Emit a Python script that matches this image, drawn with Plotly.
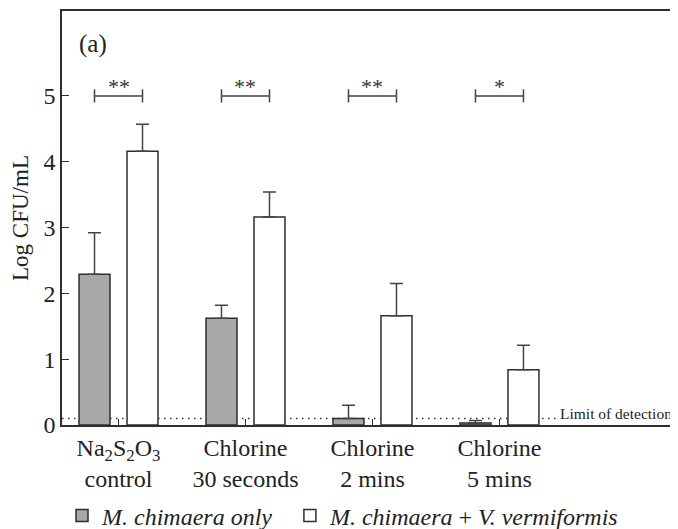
import plotly.graph_objects as go

categories = ["Na<sub>2</sub>S<sub>2</sub>O<sub>3</sub><br>control", "Chlorine<br>30 seconds",
              "Chlorine<br>2 mins", "Chlorine<br>5 mins"]
only_vals = [2.29, 1.62, 0.10, 0.03]
only_err = [0.63, 0.20, 0.20, 0.04]
co_vals = [4.16, 3.16, 1.66, 0.84]
co_err = [0.41, 0.38, 0.49, 0.37]
signif = ["**", "**", "**", "*"]
limit_of_detection = 0.1
series_names = ["<i>M. chimaera only</i>", "<i>M. chimaera</i> + <i>V. vermiformis</i>"]

FONT = "Liberation Serif, Times New Roman, serif"
LINE = "#2e2e2e"
OFF = 0.189
W = 0.244

idx = list(range(len(categories)))
x_only = [i - OFF for i in idx]
x_co = [i + OFF for i in idx]

fig = go.Figure()
fig.add_trace(go.Bar(
    x=x_only, y=only_vals, width=W, name=series_names[0], legend="legend",
    marker=dict(color="#a8a8aa", line=dict(color=LINE, width=1.5)),
    error_y=dict(type="data", array=only_err, arrayminus=[0]*4, symmetric=False,
                 color="#444", thickness=1.5, width=6.5),
))
fig.add_trace(go.Bar(
    x=x_co, y=co_vals, width=W, name=series_names[1], legend="legend2",
    marker=dict(color="white", line=dict(color=LINE, width=1.5)),
    error_y=dict(type="data", array=co_err, arrayminus=[0]*4, symmetric=False,
                 color="#444", thickness=1.5, width=6.5),
))

# limit of detection
fig.add_shape(type="line", x0=-0.445, x1=3.45, y0=limit_of_detection, y1=limit_of_detection,
              xref="x", yref="y", layer="below",
              line=dict(color="#333", width=1.5, dash="1.5px,4.5px"))
fig.add_annotation(x=3.46, y=limit_of_detection, xref="x", yref="y", text="Limit of detection",
                   showarrow=False, xanchor="left", yanchor="bottom", yshift=-6,
                   font=dict(family=FONT, size=15.5, color="#222"))

# significance brackets
bracket_y = 5.0
cap = 0.1
for i, s in enumerate(signif):
    a, b = x_only[i], x_co[i]
    fig.add_shape(type="line", x0=a, x1=b, y0=bracket_y, y1=bracket_y,
                  line=dict(color="#444", width=1.5))
    for xx in (a, b):
        fig.add_shape(type="line", x0=xx, x1=xx, y0=bracket_y - cap, y1=bracket_y + cap,
                      line=dict(color="#444", width=1.5))
    fig.add_annotation(x=i, y=bracket_y, text=s, showarrow=False, yanchor="bottom", yshift=-5,
                       font=dict(family=FONT, size=22, color="#333"))

fig.add_annotation(x=0.025, y=0.92, xref="paper", yref="paper", text="(a)", showarrow=False,
                   xanchor="left", yanchor="middle", font=dict(family=FONT, size=25, color="#222"))

legend_style = dict(orientation="h", y=-0.165, xanchor="left", yanchor="top",
                    bgcolor="rgba(0,0,0,0)", font=dict(family=FONT, size=24, color="#222"),
                    itemwidth=30)

# page body has an 8px margin, so the figure is 8px smaller and offset
fig.update_layout(
    width=670, height=521,
    margin=dict(l=54, r=0, t=3, b=104, autoexpand=False),
    plot_bgcolor="white", paper_bgcolor="white",
    barmode="overlay",
    font=dict(family=FONT, size=24, color="#222"),
    showlegend=True,
    legend=dict(x=0.0, **legend_style),
    legend2=dict(x=0.37, **legend_style),
    xaxis=dict(range=[-0.445, 4.406], tickmode="array", tickvals=idx, ticktext=categories,
               showline=True, linecolor=LINE, linewidth=1.5, mirror=True, automargin=False,
               ticks="inside", ticklen=6, tickcolor=LINE, showgrid=False, zeroline=False,
               tickfont=dict(family=FONT, size=24, color="#222")),
    yaxis=dict(range=[0, 6.29], tickvals=[0, 1, 2, 3, 4, 5], showline=True, linecolor=LINE,
               linewidth=1.5, ticks="inside", ticklen=7, tickcolor=LINE, showgrid=False,
               zeroline=False, automargin=False, tickfont=dict(family=FONT, size=24, color="#222"),
               title=dict(text="Log CFU/mL", font=dict(family=FONT, size=23, color="#222"),
                          standoff=8)),
)

fig.write_html("out.html")
